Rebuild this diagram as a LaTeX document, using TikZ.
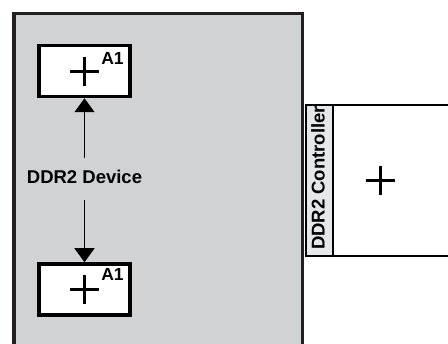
\documentclass[tikz,border=0pt]{standalone}
\usepackage{fontspec}
\setmainfont{Liberation Sans}
\usetikzlibrary{arrows.meta}
\definecolor{devgray}{HTML}{D1D2D4}
\definecolor{stripgray}{HTML}{E6E7E8}
\definecolor{edge}{HTML}{231F20}
\begin{document}
\begin{tikzpicture}[x=1pt,y=-1pt,
  bigbox/.style={draw=edge, line width=3.5pt, fill=devgray, inner sep=0pt, minimum width=288.5pt, minimum height=360pt},
  subbox/.style={draw, line width=3.5pt, fill=white, inner sep=0pt, minimum width=91pt, minimum height=51pt},
  ctrlbox/.style={draw, line width=2.4pt, fill=white, inner sep=0pt},
  plusmark/.style={line width=3pt},
  biglabel/.style={font=\fontsize{18.5}{20}\selectfont\bfseries, inner sep=0pt},
  smalllabel/.style={font=\fontsize{17.5}{19}\selectfont\bfseries, inner sep=0pt},
  conn/.style={line width=1.3pt, -{Triangle[length=14pt,width=20pt]}}]
\useasboundingbox (0,0) rectangle (448,344);
\clip (0,0) rectangle (448,344);
% device
\node[bigbox] (device) at (158.25,193.7) {};
% controller
\node[ctrlbox, minimum width=150pt, minimum height=151pt] (ctrl) at (408,180.5) {};
\node[ctrlbox, fill=stripgray, minimum width=27pt, minimum height=151pt] (strip) at (319.5,180.5) {};
\node[biglabel, rotate=90] (ctrllabel) at (318,178) {DDR2 Controller};
\draw[plusmark] (380.5,181) ++(-14.5,0) -- ++(29,0) (380.5,181) ++(0,-14.5) -- ++(0,29);
% sub boxes
\node[subbox] (a1top) at (84.5,71) {};
\node[subbox] (a1bot) at (84.5,289.5) {};
\draw[plusmark] (a1top.center) ++(-14.5,0.5) -- ++(29,0) (a1top.center) ++(0,-14) -- ++(0,29);
\draw[plusmark] (a1bot.center) ++(-14.5,0) -- ++(29,0) (a1bot.center) ++(0,-14.5) -- ++(0,29);
\node[smalllabel] (a1toplabel) at (112.5,58) {A1};
\node[smalllabel] (a1botlabel) at (112.5,274) {A1};
% device label and arrows
\node[biglabel, inner ysep=12pt] (devlabel) at (84.5,176.5) {DDR2 Device};
\draw[conn] (devlabel.north) -- (a1top.south);
\draw[conn] ([yshift=-5pt]devlabel.south) -- (a1bot.north);
\end{tikzpicture}
\end{document}
